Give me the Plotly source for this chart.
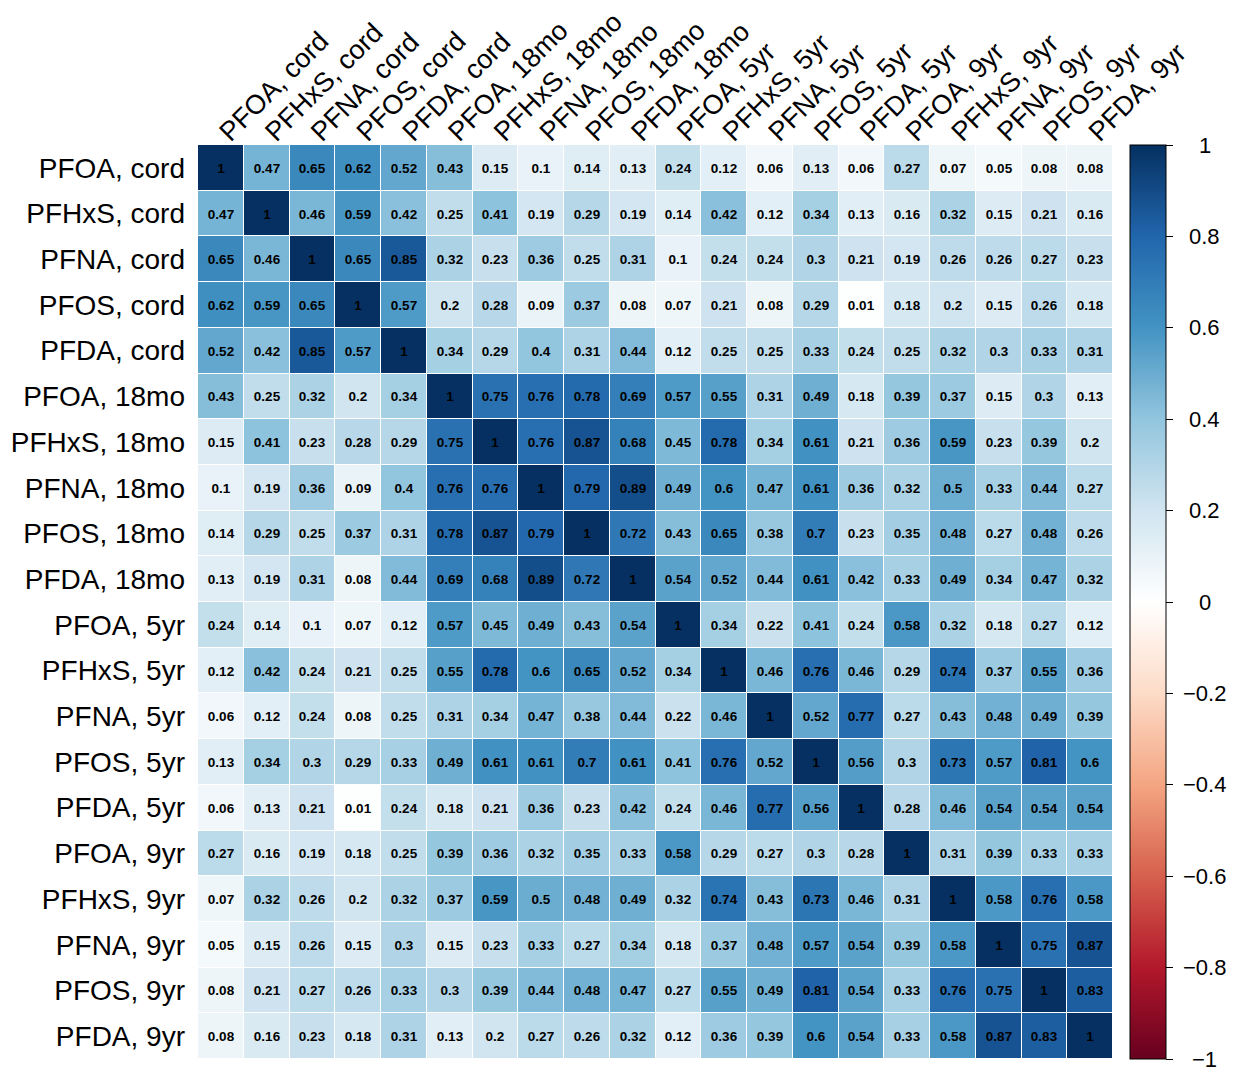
import plotly.graph_objects as go

labels = ["PFOA, cord", "PFHxS, cord", "PFNA, cord", "PFOS, cord", "PFDA, cord",
          "PFOA, 18mo", "PFHxS, 18mo", "PFNA, 18mo", "PFOS, 18mo", "PFDA, 18mo",
          "PFOA, 5yr", "PFHxS, 5yr", "PFNA, 5yr", "PFOS, 5yr", "PFDA, 5yr",
          "PFOA, 9yr", "PFHxS, 9yr", "PFNA, 9yr", "PFOS, 9yr", "PFDA, 9yr"]

pfoa_cord = [1, 0.47, 0.65, 0.62, 0.52, 0.43, 0.15, 0.1, 0.14, 0.13, 0.24, 0.12, 0.06, 0.13, 0.06, 0.27, 0.07, 0.05, 0.08, 0.08]
pfhxs_cord = [0.47, 1, 0.46, 0.59, 0.42, 0.25, 0.41, 0.19, 0.29, 0.19, 0.14, 0.42, 0.12, 0.34, 0.13, 0.16, 0.32, 0.15, 0.21, 0.16]
pfna_cord = [0.65, 0.46, 1, 0.65, 0.85, 0.32, 0.23, 0.36, 0.25, 0.31, 0.1, 0.24, 0.24, 0.3, 0.21, 0.19, 0.26, 0.26, 0.27, 0.23]
pfos_cord = [0.62, 0.59, 0.65, 1, 0.57, 0.2, 0.28, 0.09, 0.37, 0.08, 0.07, 0.21, 0.08, 0.29, 0.01, 0.18, 0.2, 0.15, 0.26, 0.18]
pfda_cord = [0.52, 0.42, 0.85, 0.57, 1, 0.34, 0.29, 0.4, 0.31, 0.44, 0.12, 0.25, 0.25, 0.33, 0.24, 0.25, 0.32, 0.3, 0.33, 0.31]
pfoa_18mo = [0.43, 0.25, 0.32, 0.2, 0.34, 1, 0.75, 0.76, 0.78, 0.69, 0.57, 0.55, 0.31, 0.49, 0.18, 0.39, 0.37, 0.15, 0.3, 0.13]
pfhxs_18mo = [0.15, 0.41, 0.23, 0.28, 0.29, 0.75, 1, 0.76, 0.87, 0.68, 0.45, 0.78, 0.34, 0.61, 0.21, 0.36, 0.59, 0.23, 0.39, 0.2]
pfna_18mo = [0.1, 0.19, 0.36, 0.09, 0.4, 0.76, 0.76, 1, 0.79, 0.89, 0.49, 0.6, 0.47, 0.61, 0.36, 0.32, 0.5, 0.33, 0.44, 0.27]
pfos_18mo = [0.14, 0.29, 0.25, 0.37, 0.31, 0.78, 0.87, 0.79, 1, 0.72, 0.43, 0.65, 0.38, 0.7, 0.23, 0.35, 0.48, 0.27, 0.48, 0.26]
pfda_18mo = [0.13, 0.19, 0.31, 0.08, 0.44, 0.69, 0.68, 0.89, 0.72, 1, 0.54, 0.52, 0.44, 0.61, 0.42, 0.33, 0.49, 0.34, 0.47, 0.32]
pfoa_5yr = [0.24, 0.14, 0.1, 0.07, 0.12, 0.57, 0.45, 0.49, 0.43, 0.54, 1, 0.34, 0.22, 0.41, 0.24, 0.58, 0.32, 0.18, 0.27, 0.12]
pfhxs_5yr = [0.12, 0.42, 0.24, 0.21, 0.25, 0.55, 0.78, 0.6, 0.65, 0.52, 0.34, 1, 0.46, 0.76, 0.46, 0.29, 0.74, 0.37, 0.55, 0.36]
pfna_5yr = [0.06, 0.12, 0.24, 0.08, 0.25, 0.31, 0.34, 0.47, 0.38, 0.44, 0.22, 0.46, 1, 0.52, 0.77, 0.27, 0.43, 0.48, 0.49, 0.39]
pfos_5yr = [0.13, 0.34, 0.3, 0.29, 0.33, 0.49, 0.61, 0.61, 0.7, 0.61, 0.41, 0.76, 0.52, 1, 0.56, 0.3, 0.73, 0.57, 0.81, 0.6]
pfda_5yr = [0.06, 0.13, 0.21, 0.01, 0.24, 0.18, 0.21, 0.36, 0.23, 0.42, 0.24, 0.46, 0.77, 0.56, 1, 0.28, 0.46, 0.54, 0.54, 0.54]
pfoa_9yr = [0.27, 0.16, 0.19, 0.18, 0.25, 0.39, 0.36, 0.32, 0.35, 0.33, 0.58, 0.29, 0.27, 0.3, 0.28, 1, 0.31, 0.39, 0.33, 0.33]
pfhxs_9yr = [0.07, 0.32, 0.26, 0.2, 0.32, 0.37, 0.59, 0.5, 0.48, 0.49, 0.32, 0.74, 0.43, 0.73, 0.46, 0.31, 1, 0.58, 0.76, 0.58]
pfna_9yr = [0.05, 0.15, 0.26, 0.15, 0.3, 0.15, 0.23, 0.33, 0.27, 0.34, 0.18, 0.37, 0.48, 0.57, 0.54, 0.39, 0.58, 1, 0.75, 0.87]
pfos_9yr = [0.08, 0.21, 0.27, 0.26, 0.33, 0.3, 0.39, 0.44, 0.48, 0.47, 0.27, 0.55, 0.49, 0.81, 0.54, 0.33, 0.76, 0.75, 1, 0.83]
pfda_9yr = [0.08, 0.16, 0.23, 0.18, 0.31, 0.13, 0.2, 0.27, 0.26, 0.32, 0.12, 0.36, 0.39, 0.6, 0.54, 0.33, 0.58, 0.87, 0.83, 1]

cb_ticks = [-1, -0.8, -0.6, -0.4, -0.2, 0, 0.2, 0.4, 0.6, 0.8, 1]
cb_ticktext = ["\u22121", "\u22120.8", "\u22120.6", "\u22120.4", "\u22120.2", "0", "0.2", "0.4", "0.6", "0.8", "1"]

rows = [pfoa_cord, pfhxs_cord, pfna_cord, pfos_cord, pfda_cord,
        pfoa_18mo, pfhxs_18mo, pfna_18mo, pfos_18mo, pfda_18mo,
        pfoa_5yr, pfhxs_5yr, pfna_5yr, pfos_5yr, pfda_5yr,
        pfoa_9yr, pfhxs_9yr, pfna_9yr, pfos_9yr, pfda_9yr]

rdbu = ["#67001F", "#B2182B", "#D6604D", "#F4A582", "#FDDBC7", "#FFFFFF",
        "#D1E5F0", "#92C5DE", "#4393C3", "#2166AC", "#053061"]
colorscale = [[i / (len(rdbu) - 1), c] for i, c in enumerate(rdbu)]

text = [[f"{v:g}" for v in r] for r in rows]

FONT = "Liberation Sans, Arial, Helvetica, sans-serif"

fig = go.Figure(go.Heatmap(
    z=rows, x=labels, y=labels,
    zmin=-1, zmax=1, colorscale=colorscale,
    text=text, texttemplate="<b>%{text}</b>",
    textfont=dict(family=FONT, size=13.5, color="black"),
    xgap=1, ygap=1,
    colorbar=dict(
        thickness=36, len=1, lenmode="fraction", y=0.5, yanchor="middle",
        x=1.0186, xanchor="left", xpad=0, ypad=0,
        outlinecolor="black", outlinewidth=1,
        tickvals=cb_ticks, ticks="outside", ticklen=7, tickcolor="black",
        showticklabels=False,
    ),
))

for v, t in zip(cb_ticks, cb_ticktext):
    fig.add_annotation(x=1.1005, y=(v + 1) / 2, xref="paper", yref="paper",
                       text=t, showarrow=False, xanchor="center", yanchor="middle",
                       font=dict(family=FONT, size=22, color="black"))

fig.update_xaxes(side="top", tickangle=-45, showgrid=False, zeroline=False,
                 ticks="", tickfont=dict(family=FONT, size=27, color="black"),
                 automargin=False, ticklabelstandoff=-8)
fig.update_yaxes(autorange="reversed", showgrid=False, zeroline=False,
                 ticks="", tickfont=dict(family=FONT, size=28, color="black"),
                 automargin=False, ticklabelstandoff=12)

fig.update_layout(
    width=1236, height=1069,
    margin=dict(l=198, r=123, t=145, b=10),
    paper_bgcolor="white", plot_bgcolor="white",
    font=dict(family=FONT),
)

fig.write_html("out.html",
               config={"displayModeBar": False},
               post_script="document.body.style.margin='0';document.body.style.overflow='hidden';")
